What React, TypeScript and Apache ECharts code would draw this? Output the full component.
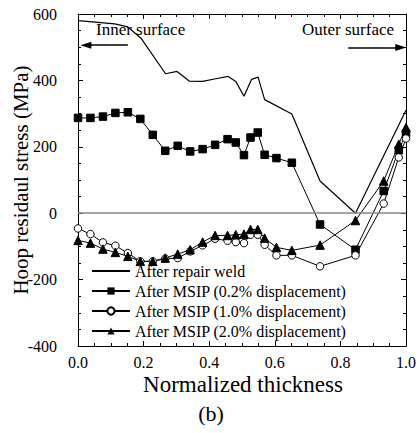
import React, { useEffect, useRef } from "react";
import * as echarts from "echarts";

// After repair weld (solid line, no markers)
const weldX = [0, 0.112, 0.152, 0.193, 0.267, 0.302, 0.339, 0.38, 0.42, 0.458, 0.481, 0.506, 0.529, 0.549, 0.569, 0.652, 0.738, 0.846, 1.0];
const weldY = [580, 570, 561, 526, 420, 427, 398, 397, 405, 412, 397, 352, 403, 410, 342, 299, 97, 0, 310];

// MSIP measurement positions (normalized thickness)
const msipX = [0, 0.038, 0.076, 0.114, 0.152, 0.19, 0.228, 0.266, 0.304, 0.342, 0.38, 0.418, 0.456, 0.481, 0.506, 0.526, 0.548, 0.569, 0.605, 0.652, 0.738, 0.846, 0.932, 0.978, 1.0];
const msip02 = [287, 287, 291, 302, 304, 284, 236, 188, 203, 186, 193, 206, 223, 213, 175, 228, 243, 176, 166, 152, -34, -110, 67, 190, 240];
const msip10 = [-46, -63, -88, -98, -120, -145, -145, -137, -135, -115, -97, -77, -83, -87, -90, -65, -65, -95, -127, -127, -160, -127, 29, 168, 225];
const msip20 = [-82, -90, -108, -118, -130, -145, -145, -135, -123, -110, -87, -67, -67, -65, -63, -49, -49, -75, -103, -112, -96, -22, 97, 208, 258];

const seriesNames = [
  "After repair weld",
  "After MSIP (0.2% displacement)",
  "After MSIP (1.0% displacement)",
  "After MSIP (2.0% displacement)",
];

const FONT = "'Liberation Serif', 'Times New Roman', serif";

export default function App() {
  const ref = useRef<HTMLDivElement>(null);
  useEffect(() => {
    if (!ref.current) return;
    const chart = echarts.init(ref.current, undefined, { renderer: "svg" });
    const pair = (xs: number[], ys: number[]) => xs.map((x, i) => [x, ys[i]]);
    const axisCommon = {
      axisLine: { show: true, onZero: false, lineStyle: { color: "#000", width: 1 } },
      axisTick: { show: true, inside: true, length: 5, lineStyle: { color: "#000" } },
      minorTick: { show: true, splitNumber: 4, length: 3, lineStyle: { color: "#000" } },
      splitLine: { show: false },
    };
    const xBase = { type: "value", min: 0, max: 1, interval: 0.2, ...axisCommon };
    const yBase = { type: "value", min: -400, max: 600, interval: 200, ...axisCommon };
    chart.setOption({
      animation: false,
      backgroundColor: "#fff",
      textStyle: { fontFamily: FONT, color: "#000" },
      grid: { left: 78, right: 11, top: 14, bottom: 87, containLabel: false },
      legend: {
        orient: "vertical",
        left: 86,
        top: 258,
        itemWidth: 38,
        itemHeight: 9,
        itemGap: 4,
        data: [
          { name: seriesNames[0], itemStyle: { color: "transparent", borderColor: "transparent", opacity: 0 } },
          seriesNames[1],
          seriesNames[2],
          seriesNames[3],
        ],
        textStyle: { fontFamily: FONT, fontSize: 16, color: "#000" },
      },
      xAxis: [
        {
          ...xBase,
          position: "bottom",
          axisLabel: { show: true, fontFamily: FONT, fontSize: 16, color: "#000", margin: 8, formatter: (v: number) => v.toFixed(1) },
        },
        { ...xBase, position: "top", axisLabel: { show: false } },
      ],
      yAxis: [
        {
          ...yBase,
          position: "left",
          axisLabel: { show: true, fontFamily: FONT, fontSize: 16, color: "#000", margin: 21 },
        },
        { ...yBase, position: "right", axisLabel: { show: false } },
      ],
      series: [
        {
          name: seriesNames[0],
          type: "line",
          symbol: "none",
          data: pair(weldX, weldY),
          lineStyle: { color: "#000", width: 1.2 },
          itemStyle: { color: "#000" },
          markLine: {
            silent: true,
            symbol: ["none", "none"],
            label: { show: false },
            lineStyle: { color: "#888", width: 1.5, type: "solid" },
            data: [{ yAxis: 0 }],
          },
        },
        {
          name: seriesNames[1],
          type: "line",
          symbol: "rect",
          symbolSize: 7.5,
          data: pair(msipX, msip02),
          lineStyle: { color: "#000", width: 1 },
          itemStyle: { color: "#000", borderColor: "#000" },
          markLine: {
            silent: true,
            symbol: ["none", "triangle"],
            symbolSize: [7, 11],
            label: { show: false },
            lineStyle: { color: "#000", width: 1.5, type: "solid" },
            data: [
              [{ coord: [0.152, 506] }, { coord: [0.024, 506] }],
              [{ coord: [0.824, 499] }, { coord: [0.984, 499] }],
            ],
          },
        },
        {
          name: seriesNames[2],
          type: "line",
          symbol: "circle",
          symbolSize: 7.5,
          data: pair(msipX, msip10),
          lineStyle: { color: "#000", width: 1 },
          itemStyle: { color: "#fff", borderColor: "#000", borderWidth: 1 },
        },
        {
          name: seriesNames[3],
          type: "line",
          symbol: "triangle",
          symbolSize: 8.5,
          data: pair(msipX, msip20),
          lineStyle: { color: "#000", width: 1 },
          itemStyle: { color: "#000", borderColor: "#000" },
        },
      ],
      graphic: [
        { type: "text", left: 96, top: 21, style: { text: "Inner surface", fontFamily: FONT, fontSize: 17, fill: "#000" } },
        { type: "text", left: 302, top: 21, style: { text: "Outer surface", fontFamily: FONT, fontSize: 17, fill: "#000" } },
        {
          type: "text",
          x: 243,
          y: 384,
          style: { text: "Normalized thickness", fontFamily: FONT, fontSize: 23, fill: "#000", align: "center", verticalAlign: "middle" },
        },
        {
          type: "text",
          x: 21,
          y: 180,
          rotation: Math.PI / 2,
          style: { text: "Hoop residaul stress (MPa)", fontFamily: FONT, fontSize: 21, fill: "#000", align: "center", verticalAlign: "middle" },
        },
        {
          type: "text",
          x: 211,
          y: 413,
          style: { text: "(b)", fontFamily: FONT, fontSize: 22, fill: "#000", align: "center", verticalAlign: "middle" },
        },
      ],
    });
    return () => chart.dispose();
  }, []);
  return <div ref={ref} style={{ position: "fixed", left: 0, top: 0, width: 419, height: 433 }} />;
}
